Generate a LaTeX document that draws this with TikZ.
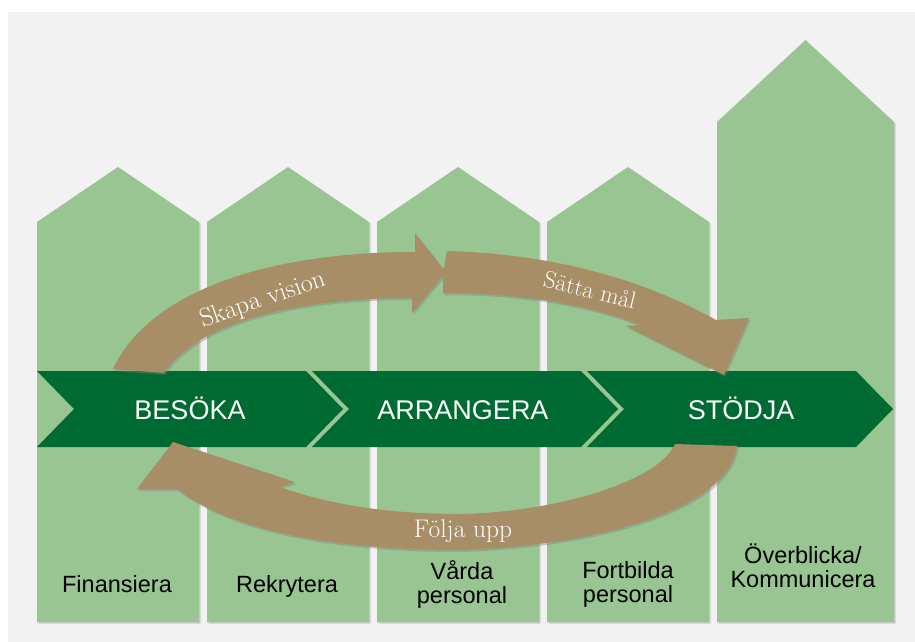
\documentclass[tikz,border=0pt]{standalone}
\usepackage{fontspec}
\setsansfont{Liberation Sans}
\usetikzlibrary{shadows}
\definecolor{pillargreen}{RGB}{152,197,145}
\definecolor{bandgreen}{RGB}{0,106,51}
\definecolor{loopbrown}{RGB}{167,142,102}
\definecolor{paper}{RGB}{242,242,242}

\begin{document}
\begin{tikzpicture}[x=1pt,y=-1pt,
	pillar/.style={fill=pillargreen,drop shadow={shadow xshift=1.5pt,shadow yshift=-1.5pt,opacity=.35}},
	phase/.style={fill=bandgreen},
	loop/.style={fill=loopbrown,drop shadow={shadow xshift=1.5pt,shadow yshift=-2pt,opacity=.4}},
	phaselabel/.style={text=white,font=\sffamily\fontsize{27}{30}\selectfont,anchor=base},
	looplabel/.style={text=white,font=\fontsize{24}{26}\selectfont},
	tasklabel/.style={font=\sffamily\fontsize{23.5}{24}\selectfont,align=center}]

\useasboundingbox (0,0) rectangle (915,642);
\fill[white] (0,0) rectangle (915,642);
\fill[paper] (8,12) rectangle (915,642);

% pillars
\foreach \x in {37,207,377,547}
	\fill[pillar] (\x,622) -- (\x,222) -- (\x+81,167) -- (\x+162,222) -- (\x+162,622) -- cycle;
\fill[pillar] (717,622) -- (717,122) -- (805.5,40) -- (894,122) -- (894,622) -- cycle;

% band
\foreach \x in {37,312,587}
	\fill[phase] (\x,371) -- (\x+269,371) -- (\x+306,409) -- (\x+269,447) -- (\x,447) -- (\x+37,409) -- cycle;

\node[phaselabel] (besoka) at (190,419) {BESÖKA};
\node[phaselabel] (arrangera) at (463,419) {ARRANGERA};
\node[phaselabel] (stodja) at (741,419) {STÖDJA};

% loop
\fill[loop] (113,369) .. controls (150,290) and (270,252) .. (415,252) -- (415,233) -- (446,272) -- (412,313) -- (412,298)
	.. controls (300,298) and (200,320) .. (164,373) -- cycle;
\fill[loop] (447,251) .. controls (560,254) and (650,283) .. (716,320) -- (749,318) -- (724,375) -- (626,326) -- (640,325)
	.. controls (590,305) and (520,293) .. (443,293) -- (443,274) -- cycle;
\fill[loop] (675,444) -- (737,446) .. controls (730,505) and (610,545) .. (460,550)
	.. controls (330,550) and (230,530) .. (177,489) -- (137,489) -- (173,442) -- (295,482) -- (280,487)
	.. controls (330,505) and (390,514) .. (460,514) .. controls (560,512) and (660,480) .. (675,444) -- cycle;

\node[looplabel,rotate=19,font=\fontsize{26}{28}\selectfont] (vision) at (263,300) {Skapa vision};
\node[looplabel,rotate=-14] (mal) at (590,290) {Sätta mål};
\node[looplabel,font=\fontsize{25.5}{28}\selectfont] (folja) at (463,531) {Följa upp};

\node[tasklabel,anchor=base] (finansiera) at (117,592) {Finansiera};
\node[tasklabel,anchor=base] (rekrytera) at (287,592) {Rekrytera};
\node[tasklabel] (varda) at (462,584) {Vårda\\personal};
\node[tasklabel] (fortbilda) at (628,584) {Fortbilda\\personal};
\node[tasklabel] (overblicka) at (803,566) {Överblicka/\\Kommunicera};
\end{tikzpicture}
\end{document}
